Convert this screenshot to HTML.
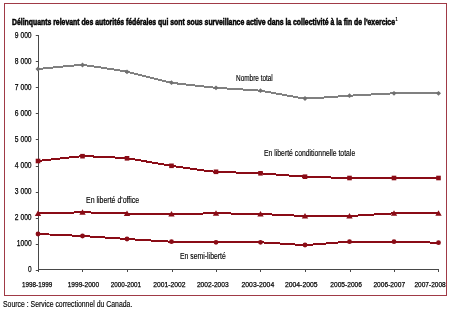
<!DOCTYPE html><html><head><meta charset="utf-8"><style>html,body{margin:0;padding:0;background:#fff;width:450px;height:310px;overflow:hidden}svg{display:block;will-change:transform}text{font-family:"Liberation Sans",sans-serif;fill:#000;stroke:#000;stroke-width:0.15px}.t{stroke-width:0.5px}.xl{stroke-width:0.25px}</style></head><body>
<svg width="450" height="310" viewBox="0 0 450 310">
<text class="t" x="12" y="24.6" font-size="8.2" font-weight="bold" textLength="383" lengthAdjust="spacingAndGlyphs">Délinquants relevant des autorités fédérales qui sont sous surveillance active dans la collectivité à la fin de l'exercice</text>
<text x="395.3" y="21.3" font-size="4.6" font-weight="bold" style="stroke-width:0">1</text>
<path d="M38.5 35 V269.5 H438.5" fill="none" stroke="#484848" stroke-width="1"/>
<path d="M35.8 35.5 H38" stroke="#484848" stroke-width="1"/>
<text x="31.6" y="37.5" font-size="8.6" class="xl" text-anchor="end" textLength="16.8" lengthAdjust="spacingAndGlyphs">9 000</text>
<path d="M35.8 61.5 H38" stroke="#484848" stroke-width="1"/>
<text x="31.6" y="63.5" font-size="8.6" class="xl" text-anchor="end" textLength="16.8" lengthAdjust="spacingAndGlyphs">8 000</text>
<path d="M35.8 87.5 H38" stroke="#484848" stroke-width="1"/>
<text x="31.6" y="89.6" font-size="8.6" class="xl" text-anchor="end" textLength="16.8" lengthAdjust="spacingAndGlyphs">7 000</text>
<path d="M35.8 113.5 H38" stroke="#484848" stroke-width="1"/>
<text x="31.6" y="115.6" font-size="8.6" class="xl" text-anchor="end" textLength="16.8" lengthAdjust="spacingAndGlyphs">6 000</text>
<path d="M35.8 139.5 H38" stroke="#484848" stroke-width="1"/>
<text x="31.6" y="141.6" font-size="8.6" class="xl" text-anchor="end" textLength="16.8" lengthAdjust="spacingAndGlyphs">5 000</text>
<path d="M35.8 166.5 H38" stroke="#484848" stroke-width="1"/>
<text x="31.6" y="167.7" font-size="8.6" class="xl" text-anchor="end" textLength="16.8" lengthAdjust="spacingAndGlyphs">4 000</text>
<path d="M35.8 192.5 H38" stroke="#484848" stroke-width="1"/>
<text x="31.6" y="193.7" font-size="8.6" class="xl" text-anchor="end" textLength="16.8" lengthAdjust="spacingAndGlyphs">3 000</text>
<path d="M35.8 218.5 H38" stroke="#484848" stroke-width="1"/>
<text x="31.6" y="219.7" font-size="8.6" class="xl" text-anchor="end" textLength="16.8" lengthAdjust="spacingAndGlyphs">2 000</text>
<path d="M35.8 244.5 H38" stroke="#484848" stroke-width="1"/>
<text x="31.6" y="245.8" font-size="8.6" class="xl" text-anchor="end" textLength="14.8" lengthAdjust="spacingAndGlyphs">1000</text>
<path d="M35.8 270.5 H38" stroke="#484848" stroke-width="1"/>
<text x="31.6" y="271.8" font-size="8.6" class="xl" text-anchor="end" textLength="3.6" lengthAdjust="spacingAndGlyphs">0</text>
<path d="M38.5 269 V272" stroke="#484848" stroke-width="1"/>
<path d="M82.5 269 V272" stroke="#484848" stroke-width="1"/>
<path d="M127.5 269 V272" stroke="#484848" stroke-width="1"/>
<path d="M172.5 269 V272" stroke="#484848" stroke-width="1"/>
<path d="M216.5 269 V272" stroke="#484848" stroke-width="1"/>
<path d="M260.5 269 V272" stroke="#484848" stroke-width="1"/>
<path d="M305.5 269 V272" stroke="#484848" stroke-width="1"/>
<path d="M350.5 269 V272" stroke="#484848" stroke-width="1"/>
<path d="M394.5 269 V272" stroke="#484848" stroke-width="1"/>
<path d="M438.5 269 V272" stroke="#484848" stroke-width="1"/>
<text x="22.0" y="287.4" font-size="7.8" class="xl" textLength="30.2" lengthAdjust="spacingAndGlyphs">1998-1999</text>
<text x="67.7" y="287.4" font-size="7.8" class="xl" textLength="31.4" lengthAdjust="spacingAndGlyphs">1999-2000</text>
<text x="110.8" y="287.4" font-size="7.8" class="xl" textLength="30.3" lengthAdjust="spacingAndGlyphs">2000-2001</text>
<text x="153.3" y="287.4" font-size="7.8" class="xl" textLength="32.3" lengthAdjust="spacingAndGlyphs">2001-2002</text>
<text x="196.9" y="287.4" font-size="7.8" class="xl" textLength="31.8" lengthAdjust="spacingAndGlyphs">2002-2003</text>
<text x="241.5" y="287.4" font-size="7.8" class="xl" textLength="32.7" lengthAdjust="spacingAndGlyphs">2003-2004</text>
<text x="284.9" y="287.4" font-size="7.8" class="xl" textLength="32.7" lengthAdjust="spacingAndGlyphs">2004-2005</text>
<text x="330.3" y="287.4" font-size="7.8" class="xl" textLength="31.7" lengthAdjust="spacingAndGlyphs">2005-2006</text>
<text x="373.4" y="287.4" font-size="7.8" class="xl" textLength="31.7" lengthAdjust="spacingAndGlyphs">2006-2007</text>
<text x="414.4" y="287.4" font-size="7.8" class="xl" textLength="31.3" lengthAdjust="spacingAndGlyphs">2007-2008</text>
<path d="M38.00 69.00 C40.23 68.80 78.05 64.86 82.50 65.00 C86.95 65.14 122.55 70.91 127.00 71.80 C131.45 72.69 167.05 81.90 171.50 82.70 C175.95 83.50 211.55 87.40 216.00 87.80 C220.45 88.20 256.05 90.17 260.50 90.70 C264.95 91.23 300.55 98.25 305.00 98.50 C309.45 98.75 345.05 95.96 349.50 95.70 C353.95 95.44 389.55 93.42 394.00 93.30 C398.45 93.18 436.27 93.30 438.50 93.30" fill="none" stroke="#808080" stroke-width="2" shape-rendering="crispEdges"/>
<path d="M38.00 161.00 C40.23 160.76 78.05 156.33 82.50 156.20 C86.95 156.06 122.55 157.82 127.00 158.30 C131.45 158.78 167.05 165.12 171.50 165.80 C175.95 166.48 211.55 171.43 216.00 171.80 C220.45 172.18 256.05 173.06 260.50 173.30 C264.95 173.55 300.55 176.46 305.00 176.70 C309.45 176.94 345.05 177.94 349.50 178.00 C353.95 178.06 389.55 178.00 394.00 178.00 C398.45 178.00 436.27 178.00 438.50 178.00" fill="none" stroke="#8a0c16" stroke-width="2" shape-rendering="crispEdges"/>
<path d="M38.00 213.50 C40.23 213.44 78.05 212.30 82.50 212.30 C86.95 212.30 122.55 213.41 127.00 213.50 C131.45 213.59 167.05 214.01 171.50 214.00 C175.95 213.99 211.55 213.30 216.00 213.30 C220.45 213.30 256.05 213.87 260.50 214.00 C264.95 214.13 300.55 215.90 305.00 216.00 C309.45 216.10 345.05 216.13 349.50 216.00 C353.95 215.87 389.55 213.44 394.00 213.30 C398.45 213.17 436.27 213.30 438.50 213.30" fill="none" stroke="#8a0c16" stroke-width="2" shape-rendering="crispEdges"/>
<path d="M38.00 234.00 C40.23 234.10 78.05 235.75 82.50 236.00 C86.95 236.25 122.55 238.72 127.00 239.00 C131.45 239.28 167.05 241.53 171.50 241.70 C175.95 241.86 211.55 242.27 216.00 242.30 C220.45 242.33 256.05 242.17 260.50 242.30 C264.95 242.44 300.55 245.03 305.00 245.00 C309.45 244.97 345.05 241.86 349.50 241.70 C353.95 241.53 389.55 241.65 394.00 241.70 C398.45 241.75 436.27 242.65 438.50 242.70" fill="none" stroke="#8a0c16" stroke-width="2" shape-rendering="crispEdges"/>
<path d="M38.0 66.6 l2.5 2.4 l-2.5 2.4 l-2.5 -2.4z" fill="#707070"/>
<path d="M82.5 62.6 l2.5 2.4 l-2.5 2.4 l-2.5 -2.4z" fill="#707070"/>
<path d="M127.0 69.4 l2.5 2.4 l-2.5 2.4 l-2.5 -2.4z" fill="#707070"/>
<path d="M171.5 80.3 l2.5 2.4 l-2.5 2.4 l-2.5 -2.4z" fill="#707070"/>
<path d="M216.0 85.4 l2.5 2.4 l-2.5 2.4 l-2.5 -2.4z" fill="#707070"/>
<path d="M260.5 88.3 l2.5 2.4 l-2.5 2.4 l-2.5 -2.4z" fill="#707070"/>
<path d="M305.0 96.1 l2.5 2.4 l-2.5 2.4 l-2.5 -2.4z" fill="#707070"/>
<path d="M349.5 93.3 l2.5 2.4 l-2.5 2.4 l-2.5 -2.4z" fill="#707070"/>
<path d="M394.0 90.9 l2.5 2.4 l-2.5 2.4 l-2.5 -2.4z" fill="#707070"/>
<path d="M438.5 90.9 l2.5 2.4 l-2.5 2.4 l-2.5 -2.4z" fill="#707070"/>
<rect x="35.7" y="158.7" width="4.6" height="4.6" fill="#8a0c16"/>
<rect x="80.2" y="153.9" width="4.6" height="4.6" fill="#8a0c16"/>
<rect x="124.7" y="156.0" width="4.6" height="4.6" fill="#8a0c16"/>
<rect x="169.2" y="163.5" width="4.6" height="4.6" fill="#8a0c16"/>
<rect x="213.7" y="169.5" width="4.6" height="4.6" fill="#8a0c16"/>
<rect x="258.2" y="171.0" width="4.6" height="4.6" fill="#8a0c16"/>
<rect x="302.7" y="174.4" width="4.6" height="4.6" fill="#8a0c16"/>
<rect x="347.2" y="175.7" width="4.6" height="4.6" fill="#8a0c16"/>
<rect x="391.7" y="175.7" width="4.6" height="4.6" fill="#8a0c16"/>
<rect x="436.2" y="175.7" width="4.6" height="4.6" fill="#8a0c16"/>
<path d="M38.0 210.5 l3.2 5.4 h-6.4z" fill="#8a0c16"/>
<path d="M82.5 209.3 l3.2 5.4 h-6.4z" fill="#8a0c16"/>
<path d="M127.0 210.5 l3.2 5.4 h-6.4z" fill="#8a0c16"/>
<path d="M171.5 211.0 l3.2 5.4 h-6.4z" fill="#8a0c16"/>
<path d="M216.0 210.3 l3.2 5.4 h-6.4z" fill="#8a0c16"/>
<path d="M260.5 211.0 l3.2 5.4 h-6.4z" fill="#8a0c16"/>
<path d="M305.0 213.0 l3.2 5.4 h-6.4z" fill="#8a0c16"/>
<path d="M349.5 213.0 l3.2 5.4 h-6.4z" fill="#8a0c16"/>
<path d="M394.0 210.3 l3.2 5.4 h-6.4z" fill="#8a0c16"/>
<path d="M438.5 210.3 l3.2 5.4 h-6.4z" fill="#8a0c16"/>
<circle cx="38.0" cy="234.0" r="2.4" fill="#8a0c16"/>
<circle cx="82.5" cy="236.0" r="2.4" fill="#8a0c16"/>
<circle cx="127.0" cy="239.0" r="2.4" fill="#8a0c16"/>
<circle cx="171.5" cy="241.7" r="2.4" fill="#8a0c16"/>
<circle cx="216.0" cy="242.3" r="2.4" fill="#8a0c16"/>
<circle cx="260.5" cy="242.3" r="2.4" fill="#8a0c16"/>
<circle cx="305.0" cy="245.0" r="2.4" fill="#8a0c16"/>
<circle cx="349.5" cy="241.7" r="2.4" fill="#8a0c16"/>
<circle cx="394.0" cy="241.7" r="2.4" fill="#8a0c16"/>
<circle cx="438.5" cy="242.7" r="2.4" fill="#8a0c16"/>
<text x="236" y="81.1" font-size="8.5" textLength="36.8" lengthAdjust="spacingAndGlyphs">Nombre total</text>
<text x="264" y="155.8" font-size="8.5" textLength="91.2" lengthAdjust="spacingAndGlyphs">En liberté conditionnelle totale</text>
<text x="86" y="202.8" font-size="8.5" textLength="53.2" lengthAdjust="spacingAndGlyphs">En liberté d'office</text>
<text x="180" y="259.2" font-size="8.5" textLength="45.8" lengthAdjust="spacingAndGlyphs">En semi-liberté</text>
<text x="3" y="306.8" font-size="8.5" textLength="129.3" lengthAdjust="spacingAndGlyphs">Source : Service correctionnel du Canada.</text>
<rect x="4.5" y="3.5" width="442" height="292" fill="none" stroke="#a03a46" stroke-width="1"/>
</svg></body></html>
